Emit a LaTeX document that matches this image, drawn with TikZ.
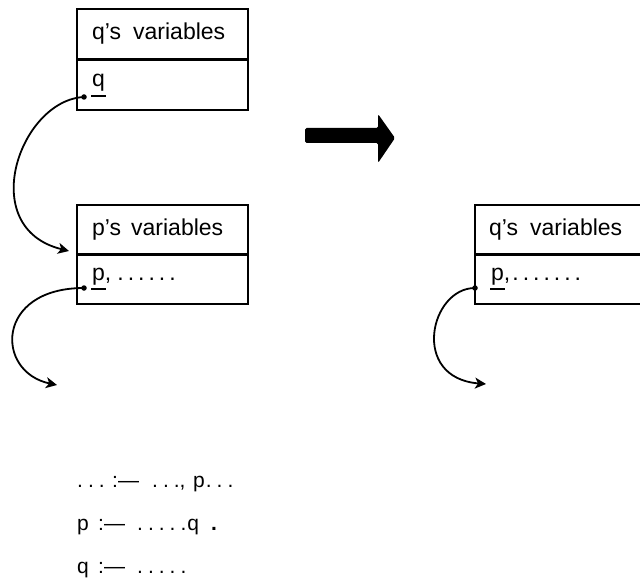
\documentclass[tikz,border=0pt]{standalone}
\usepackage{fontspec}
\setmainfont{Liberation Sans}
\usetikzlibrary{arrows.meta}
\newcommand\myul[1]{\leavevmode\rlap{\hspace{-1pt}\rule[-10pt]{15pt}{2.2pt}}#1}
\newcommand\sd{.\hspace{4pt}}
\newcommand\cd{.\hspace{5pt}}
\begin{document}
\begin{tikzpicture}[x=1pt,y=-1pt,
  cell/.style={draw, line width=2.4pt, minimum width=171pt, minimum height=50pt, anchor=north west, inner sep=0pt},
  lbl/.style={anchor=base west, inner sep=0pt, font=\fontsize{23}{26}\selectfont},
  code/.style={anchor=base west, inner sep=0pt, font=\fontsize{21}{24}\selectfont},
  link/.style={line width=1.8pt, -{Stealth[length=11pt,width=11pt,inset=3pt]}},
  dot/.style={circle, fill, inner sep=0pt, minimum size=5.5pt}]
\useasboundingbox (0,0) rectangle (640,583);
\clip (0,0) rectangle (640,583);
% box 1
\node[cell] (h1) at (76,8) {};
\node[cell] (b1) at (76,59) {};
\node[lbl] (t1) at (92,40) {q's\hspace{12pt}variables};
\node[lbl] (v1) at (92,87) {\myul{q}};
% box 2
\node[cell] (h2) at (76,204) {};
\node[cell] (b2) at (76,253) {};
\node[lbl] (t2) at (92,235) {p's\hspace{10pt}variables};
\node[lbl] (v2) at (92,280) {\myul{p},\hspace{6pt}\sd\sd\sd\sd\sd.};
% box 3 (cut at right)
\node[cell, minimum width=200pt] (h3) at (474,204) {};
\node[cell, minimum width=200pt] (b3) at (474,253) {};
\node[lbl] (t3) at (489,235) {q's\hspace{12pt}variables};
\node[lbl] (v3) at (491,280) {\myul{p},\hspace{2pt}\sd\sd\sd\sd\sd\sd.};
% dots
\node[dot] (d1) at (84,97) {};
\node[dot] (d2) at (84,288) {};
\node[dot] (d3) at (475,288) {};
\coordinate (e1) at (69,251);
\coordinate (e2) at (57,385);
\coordinate (e3) at (486,384);
% connectors
\draw[link] (d1.center) .. controls (20,100) and (-25,228) .. (e1);
\draw[link] (d2.center) .. controls (-5,288) and (-5,372) .. (e2);
\draw[link] (d3.center) .. controls (430,288) and (410,378) .. (e3);
% big arrow
\fill[rounded corners=1.5pt] (305,128) -- (378,128) -- (378,114) -- (395,138) -- (378,163) -- (378,143) -- (305,143) -- cycle;
% code lines
\node[code] (c1) at (77,487) {\makebox[35pt][l]{\cd\cd.}\makebox[40pt][l]{:—}\makebox[41pt][l]{\cd\cd.,}p\hspace{1pt}\cd\cd.};
\node[code] (c2) at (77,530) {\makebox[21pt][l]{p}\makebox[39pt][l]{:—}\cd\cd\cd\cd.\hspace{1pt}q\hspace{12pt}{\bfseries .}};
\node[code] (c3) at (77,573) {\makebox[21pt][l]{q}\makebox[39pt][l]{:—}\cd\cd\cd\cd.};
\end{tikzpicture}
\end{document}
